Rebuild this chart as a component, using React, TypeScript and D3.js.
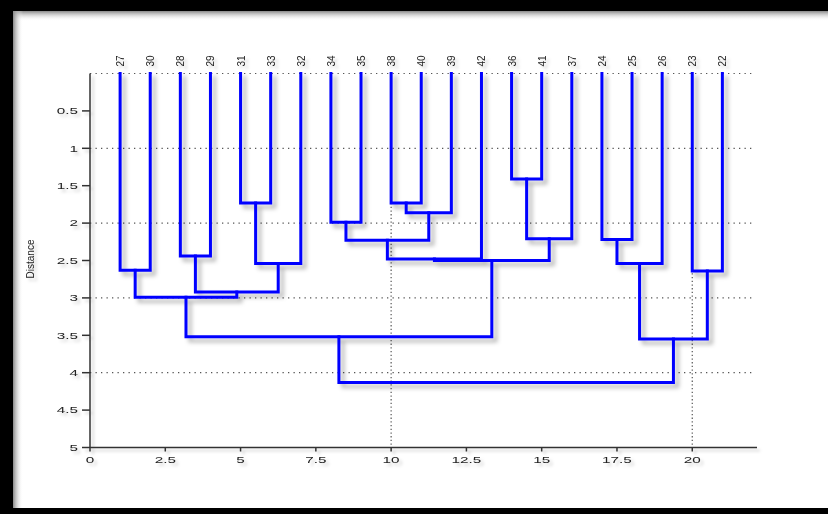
import React from "react";
import * as d3 from "d3";

const leaves = ["27", "30", "28", "29", "31", "33", "32", "34", "35", "38", "40", "39", "42", "36", "41", "37", "24", "25", "26", "23", "22"];

// merges: [name, left child, right child, distance]
const mergeNames = ["n1", "n2", "n3", "n4", "n5", "n6", "n7", "n8", "n9", "n10", "n11", "n12", "n13", "n14", "n15", "n16", "n17", "n18", "n19", "n20"];
const mergeLeft = ["36", "31", "38", "n3", "34", "n1", "24", "n5", "28", "n8", "n10", "n2", "n7", "27", "23", "n9", "n14", "n17", "n13", "n18"];
const mergeRight = ["41", "33", "40", "39", "35", "37", "25", "n4", "29", "42", "n6", "32", "26", "30", "22", "n12", "n16", "n11", "n15", "n19"];
const mergeHeight = [1.41, 1.73, 1.73, 1.86, 1.99, 2.21, 2.22, 2.23, 2.44, 2.48, 2.5, 2.54, 2.54, 2.63, 2.64, 2.92, 2.99, 3.52, 3.55, 4.13];

const yTicks = [0.5, 1, 1.5, 2, 2.5, 3, 3.5, 4, 4.5, 5];
const xTicks = [0, 2.5, 5, 7.5, 10, 12.5, 15, 17.5, 20];
const yGrid = [0, 1, 2, 3, 4];
const xGrid = [10, 20];

const W = 828;
const H = 514;

export default function App() {
  const x = d3.scaleLinear().domain([0, 22.15]).range([90, 757]);
  const y = d3.scaleLinear().domain([0, 5]).range([73.5, 447.5]);

  // build node lookup
  const pos: Record<string, { x: number; h: number }> = {};
  leaves.forEach((l, i) => (pos[l] = { x: i + 1, h: 0 }));
  const paths: string[] = [];
  mergeNames.forEach((n, i) => {
    const a = pos[mergeLeft[i]];
    const b = pos[mergeRight[i]];
    const h = mergeHeight[i];
    pos[n] = { x: (a.x + b.x) / 2, h };
    const p = d3.path();
    p.moveTo(x(a.x), y(a.h));
    p.lineTo(x(a.x), y(h));
    p.lineTo(x(b.x), y(h));
    p.lineTo(x(b.x), y(b.h));
    paths.push(p.toString());
  });

  const font = "'Liberation Sans', Arial, sans-serif";

  return (
    <svg width={W} height={H} style={{ position: "absolute", left: 0, top: 0, background: "#fff" }}>
      <defs>
        <filter id="shadow" x="-10%" y="-10%" width="130%" height="130%">
          <feGaussianBlur in="SourceAlpha" stdDeviation="2.2" />
          <feOffset dx="4" dy="4" result="ob" />
          <feFlood floodColor="#000" floodOpacity="0.3" />
          <feComposite in2="ob" operator="in" />
          <feMerge>
            <feMergeNode />
            <feMergeNode in="SourceGraphic" />
          </feMerge>
        </filter>
        <filter id="tshadow" x="-20%" y="-20%" width="160%" height="160%">
          <feGaussianBlur in="SourceAlpha" stdDeviation="1.8" />
          <feOffset dx="3" dy="3" result="ob" />
          <feFlood floodColor="#000" floodOpacity="0.18" />
          <feComposite in2="ob" operator="in" />
          <feMerge>
            <feMergeNode />
            <feMergeNode in="SourceGraphic" />
          </feMerge>
        </filter>
        <linearGradient id="gTop" x1="0" y1="0" x2="0" y2="1">
          <stop offset="0" stopColor="#888" />
          <stop offset="1" stopColor="#fff" stopOpacity="0" />
        </linearGradient>
        <linearGradient id="gLeft" x1="0" y1="0" x2="1" y2="0">
          <stop offset="0" stopColor="#888" />
          <stop offset="1" stopColor="#fff" stopOpacity="0" />
        </linearGradient>
      </defs>

      {/* frame */}
      <rect x={0} y={0} width={W} height={H} fill="#000" />
      <rect x={13} y={11} width={W - 13} height={497} fill="#fff" />
      <rect x={13} y={11} width={W - 13} height={10} fill="url(#gTop)" />
      <rect x={13} y={11} width={10} height={497} fill="url(#gLeft)" />

      {/* grid */}
      <g stroke="#555" strokeWidth={1.2} strokeDasharray="1.3,4.2" fill="none">
        {yGrid.map((v) => (
          <line key={"hy" + v} x1={x(0)} x2={x(22.05)} y1={y(v)} y2={y(v)} />
        ))}
        {xGrid.map((v) => (
          <line key={"vx" + v} x1={x(v)} x2={x(v)} y1={y(0)} y2={y(5)} strokeDasharray="1.3,2.4" />
        ))}
      </g>

      {/* axes */}
      <g filter="url(#tshadow)" stroke="#333" strokeWidth={1.5} fill="none">
        <line x1={x(0)} x2={x(0)} y1={y(0)} y2={y(5)} />
        <line x1={x(0)} x2={x(22.15)} y1={y(5)} y2={y(5)} />
        {yTicks.map((v) => (
          <line key={"yt" + v} x1={x(0) - 8} x2={x(0)} y1={y(v)} y2={y(v)} />
        ))}
        {xTicks.map((v) => (
          <line key={"xt" + v} x1={x(v)} x2={x(v)} y1={y(5)} y2={y(5) + 4} />
        ))}
      </g>

      <g filter="url(#tshadow)" fill="#222" fontFamily={font}>
        {yTicks.map((v) => (
          <text key={"yl" + v} transform={`translate(78,${y(v) + 3.2}) scale(1.7,1)`} fontSize={9} textAnchor="end">
            {String(v)}
          </text>
        ))}
        {xTicks.map((v) => (
          <text key={"xl" + v} transform={`translate(${x(v)},${y(5) + 15}) scale(1.7,1)`} fontSize={9} textAnchor="middle">
            {String(v)}
          </text>
        ))}
        {leaves.map((l, i) => (
          <text key={"lf" + l} transform={`translate(${x(i + 1) + 4},${y(0) - 7}) scale(1.1,1) rotate(-90)`} fontSize={10}>
            {l}
          </text>
        ))}
        <text transform={`translate(34,259) scale(1.1,1) rotate(-90)`} fontSize={10} textAnchor="middle">
          Distance
        </text>
      </g>

      {/* dendrogram */}
      <g filter="url(#shadow)" stroke="#0000ff" strokeWidth={3} fill="none" strokeLinejoin="miter" strokeLinecap="square">
        {paths.map((d, i) => (
          <path key={i} d={d} />
        ))}
      </g>
    </svg>
  );
}
